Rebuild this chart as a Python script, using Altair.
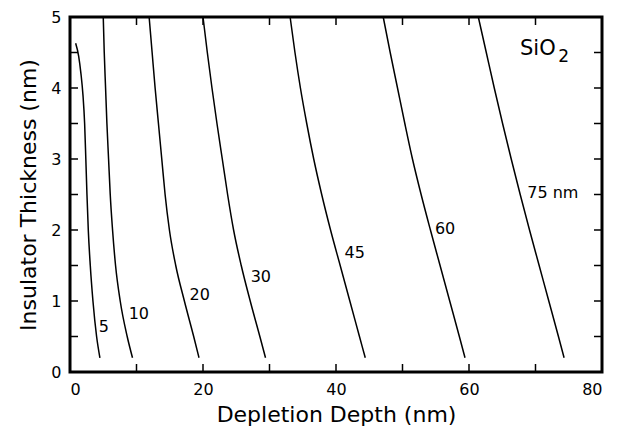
import altair as alt
import pandas as pd

# ---- data ----
y_levels = [0.2, 0.5, 1.0, 1.5, 2.0, 2.5, 3.0, 3.5, 4.0, 4.5, 5.0]
curve_5_y = [0.2, 0.5, 1.0, 1.5, 2.0, 2.5, 3.0, 3.5, 3.9, 4.2, 4.45, 4.63]
curve_5_x = [4.5, 4.0, 3.45, 3.05, 2.75, 2.55, 2.38, 2.2, 1.95, 1.65, 1.3, 0.85]
curve_10_x = [9.4, 8.6, 7.55, 6.85, 6.4, 6.05, 5.8, 5.55, 5.35, 5.15, 5.0]
curve_20_x = [19.4, 18.6, 17.2, 15.9, 14.95, 14.3, 13.8, 13.3, 12.8, 12.35, 11.9]
curve_30_x = [29.4, 28.55, 27.1, 25.75, 24.6, 23.7, 22.9, 22.1, 21.35, 20.65, 20.0]
curve_45_x = [44.4, 43.53, 42.08, 40.63, 39.18, 37.85, 36.65, 35.6, 34.65, 33.83, 33.1]
curve_60_x = [59.4, 58.55, 57.1, 55.65, 54.2, 52.8, 51.5, 50.35, 49.25, 48.15, 47.1]
curve_75_x = [74.3, 73.45, 72.0, 70.55, 69.1, 67.7, 66.35, 65.05, 63.8, 62.6, 61.4]

label_text = ["5", "10", "20", "30", "45", "60", "75 nm"]
label_x = [5.08, 10.35, 19.5, 28.7, 42.8, 56.4, 72.6]
label_y = [0.64, 0.82, 1.08, 1.34, 1.68, 2.02, 2.52]

x_tick_values = [0, 10, 20, 30, 40, 50, 60, 70, 80]
x_label_values = [0, 20, 40, 60, 80]
y_tick_values = [0, 0.5, 1, 1.5, 2, 2.5, 3, 3.5, 4, 4.5, 5]
y_label_values = [0, 1, 2, 3, 4, 5]

# ---- build tables ----
rows = []
for k, (xv, yv) in enumerate(zip(curve_5_x, curve_5_y)):
    rows.append({"curve": "5", "k": k, "x": xv, "y": yv})
for name, xs in [("10", curve_10_x), ("20", curve_20_x), ("30", curve_30_x),
                 ("45", curve_45_x), ("60", curve_60_x), ("75", curve_75_x)]:
    for k, (xv, yv) in enumerate(zip(xs, y_levels)):
        rows.append({"curve": name, "k": k, "x": xv, "y": yv})
df = pd.DataFrame(rows)
labels = pd.DataFrame({"t": label_text, "x": label_x, "y": label_y})
sio = pd.DataFrame({"t": ["SiO"], "x": [67.67], "y": [4.469]})
sub = pd.DataFrame({"t": ["2"], "x": [73.43], "y": [4.36]})
xt = pd.DataFrame({"x": x_tick_values})
yt = pd.DataFrame({"y": y_tick_values})

W, H = 532, 355
TL = 8  # tick length
FONT = "DejaVu Sans"
xs_ = alt.Scale(domain=[0, 80], nice=False, zero=False)
ys_ = alt.Scale(domain=[0, 5], nice=False, zero=False)

x_axis = alt.Axis(
    orient="bottom", values=x_label_values, ticks=False, domain=False,
    grid=False, labelFontSize=16, labelPadding=9, labelColor="black",
    labelFont=FONT, title="Depletion Depth (nm)", titleFont=FONT,
    titleFontSize=22, titleFontWeight="normal", titleColor="black",
    titlePadding=7)
y_axis = alt.Axis(
    orient="left", values=y_label_values, ticks=False, domain=False,
    grid=False, labelFontSize=16, labelPadding=9, labelColor="black",
    labelFont=FONT, title="Insulator Thickness (nm)", titleFont=FONT,
    titleFontSize=22, titleFontWeight="normal", titleColor="black",
    titlePadding=10)

X = alt.X("x:Q", scale=xs_, axis=x_axis)
Y = alt.Y("y:Q", scale=ys_, axis=y_axis)

lines = alt.Chart(df).mark_line(
    color="black", strokeWidth=1.5, interpolate="monotone", orient="horizontal"
).encode(x=X, y=Y, detail="curve:N", order="k:Q")

xtick_base = alt.Chart(xt).mark_rule(color="black", strokeWidth=1.5)
ytick_base = alt.Chart(yt).mark_rule(color="black", strokeWidth=1.5)
tick_bottom = xtick_base.encode(x=X, y=alt.value(H), y2=alt.value(H - TL))
tick_top = xtick_base.encode(x=X, y=alt.value(0), y2=alt.value(TL))
tick_left = ytick_base.encode(y=Y, x=alt.value(0), x2=alt.value(TL))
tick_right = ytick_base.encode(y=Y, x=alt.value(W), x2=alt.value(W - TL))

lab = alt.Chart(labels).mark_text(
    font=FONT, fontSize=16, color="black", align="center", baseline="middle"
).encode(x=X, y=Y, text="t:N")

sio_t = alt.Chart(sio).mark_text(
    font=FONT, fontSize=21, color="black", align="left", baseline="alphabetic"
).encode(x=X, y=Y, text="t:N")
sub_t = alt.Chart(sub).mark_text(
    font=FONT, fontSize=17, color="black", align="left", baseline="alphabetic"
).encode(x=X, y=Y, text="t:N")

chart = alt.layer(
    lines, tick_bottom, tick_top, tick_left, tick_right, lab, sio_t, sub_t
).properties(
    width=W, height=H,
    autosize=alt.AutoSizeParams(type="none"),
    padding={"left": 62, "top": 9, "right": 11, "bottom": 55},
).configure(
    background="white",
    view=alt.ViewConfig(stroke="black", strokeWidth=3),
)

chart.save("out.html", embed_options={"renderer": "svg", "actions": False})
